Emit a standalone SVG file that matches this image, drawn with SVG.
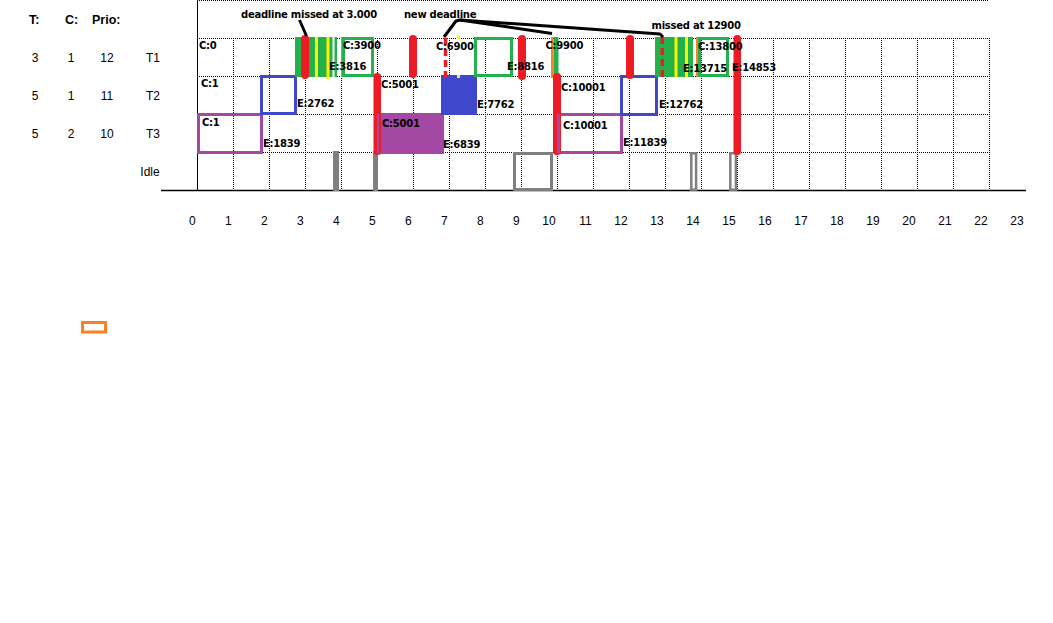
<svg xmlns="http://www.w3.org/2000/svg" width="1053" height="623" viewBox="0 0 1053 623">
<style>
.tbl{font-family:"Liberation Sans",Arial,sans-serif;font-size:12px;fill:#000}
.hdr{font-family:"Liberation Sans",Arial,sans-serif;font-size:12.5px;font-weight:bold;fill:#000}
.ax{font-family:"Liberation Sans",Arial,sans-serif;font-size:12px;fill:#000;text-anchor:end}
.lb{font-family:"DejaVu Sans",Verdana,sans-serif;font-size:10px;font-weight:bold;letter-spacing:-0.25px;fill:#000}
.grid{stroke:#000;stroke-width:1;stroke-dasharray:1 1;fill:none}
.red{fill:#ED1C24}
.grn{fill:#22B14C}
.ylw{fill:#FFF200}
.org{fill:#FF7F27}
.gout{fill:none;stroke:#22B14C;stroke-width:3}
.bout{fill:none;stroke:#3F48CC;stroke-width:3}
.pout{fill:none;stroke:#A349A4;stroke-width:3}
.gray{fill:#7F7F7F}
.grayout{fill:none;stroke:#7F7F7F;stroke-width:2.5}
.ann{fill:none;stroke:#000;stroke-width:3;stroke-linejoin:round}
.dash{stroke:#ED1C24;stroke-width:3.5;stroke-dasharray:7 4;fill:none}
</style>
<rect width="1053" height="623" fill="#fff"/>
<g id="table">
<text class="hdr" x="29" y="24">T:</text>
<text class="hdr" x="65" y="24">C:</text>
<text class="hdr" x="92" y="24">Prio:</text>
<text class="tbl" x="35" y="62" text-anchor="middle">3</text>
<text class="tbl" x="71" y="62" text-anchor="middle">1</text>
<text class="tbl" x="107" y="62" text-anchor="middle">12</text>
<text class="tbl" x="153" y="62" text-anchor="middle">T1</text>
<text class="tbl" x="35" y="100" text-anchor="middle">5</text>
<text class="tbl" x="71" y="100" text-anchor="middle">1</text>
<text class="tbl" x="107" y="100" text-anchor="middle">11</text>
<text class="tbl" x="153" y="100" text-anchor="middle">T2</text>
<text class="tbl" x="35" y="138" text-anchor="middle">5</text>
<text class="tbl" x="71" y="138" text-anchor="middle">2</text>
<text class="tbl" x="107" y="138" text-anchor="middle">10</text>
<text class="tbl" x="153" y="138" text-anchor="middle">T3</text>
<text class="tbl" x="150" y="176" text-anchor="middle">Idle</text>
</g>
<g id="grid">
<path class="grid" d="M197 0.5H989M197 38.5H989M197 76.5H989M197 114.5H989M197 152.5H989"/>
<path class="grid" d="M233.5 38V190M269.5 38V190M305.5 38V190M341.5 38V190M377.5 38V190M413.5 38V190M449.5 38V190M485.5 38V190M521.5 38V190M557.5 38V190M593.5 38V190M629.5 38V190M665.5 38V190M701.5 38V190M737.5 38V190M773.5 38V190M809.5 38V190M845.5 38V190M881.5 38V190M917.5 38V190M953.5 38V190M989.5 38V190"/>
<line x1="197.5" y1="0" x2="197.5" y2="190" stroke="#000" stroke-width="1"/>
<line x1="161" y1="190.5" x2="1026" y2="190.5" stroke="#000" stroke-width="1.6"/>
</g>
<g id="axis-labels">
<text class="ax" x="195.7" y="225">0</text>
<text class="ax" x="231.7" y="225">1</text>
<text class="ax" x="267.7" y="225">2</text>
<text class="ax" x="303.7" y="225">3</text>
<text class="ax" x="339.7" y="225">4</text>
<text class="ax" x="375.7" y="225">5</text>
<text class="ax" x="411.7" y="225">6</text>
<text class="ax" x="447.7" y="225">7</text>
<text class="ax" x="483.7" y="225">8</text>
<text class="ax" x="519.7" y="225">9</text>
<text class="ax" x="555.7" y="225">10</text>
<text class="ax" x="591.7" y="225">11</text>
<text class="ax" x="627.7" y="225">12</text>
<text class="ax" x="663.7" y="225">13</text>
<text class="ax" x="699.7" y="225">14</text>
<text class="ax" x="735.7" y="225">15</text>
<text class="ax" x="771.7" y="225">16</text>
<text class="ax" x="807.7" y="225">17</text>
<text class="ax" x="843.7" y="225">18</text>
<text class="ax" x="879.7" y="225">19</text>
<text class="ax" x="915.7" y="225">20</text>
<text class="ax" x="951.7" y="225">21</text>
<text class="ax" x="987.7" y="225">22</text>
<text class="ax" x="1023.7" y="225">23</text>
</g>
<g id="T3">
<rect class="pout" x="198.5" y="114.5" width="63" height="38"/>
<rect x="375" y="113" width="69" height="41" fill="#A349A4"/>
<rect class="pout" x="557.5" y="114.5" width="64" height="38"/>
</g>
<g id="T2">
<rect class="bout" x="261.5" y="76.5" width="34" height="37"/>
<rect x="441" y="75" width="36" height="40" fill="#3F48CC"/>
<rect class="bout" x="621.5" y="76.5" width="35" height="38"/>
<rect class="ylw" x="457" y="75" width="3" height="3"/>
</g>
<g id="T1">
<rect class="grn" x="295" y="37" width="42" height="40"/>
<rect class="ylw" x="315" y="37" width="3" height="40"/>
<rect class="ylw" x="326.5" y="37" width="3" height="42"/>
<rect x="332.5" y="37" width="2" height="40" fill="#fff"/>
<rect class="org" x="341" y="37" width="2.5" height="40"/>
<rect class="gout" x="343.5" y="38.5" width="29" height="37"/>
<rect class="gout" x="475.5" y="38.5" width="36" height="37"/>
<rect class="org" x="551" y="37" width="2.5" height="41"/>
<rect class="grn" x="553.5" y="37" width="5" height="41"/>
<rect class="grn" x="655" y="37" width="38" height="40"/>
<rect class="ylw" x="674.5" y="37" width="3" height="40"/>
<rect class="ylw" x="685" y="37" width="3" height="40"/>
<rect class="org" x="696" y="37" width="2.5" height="40"/>
<rect class="gout" x="699.5" y="38.5" width="28" height="37"/>
<rect class="ylw" x="457" y="36" width="3" height="3"/>
</g>
<g id="Idle">
<rect class="gray" x="333" y="151" width="6" height="40"/>
<rect class="gray" x="373" y="151" width="5" height="40"/>
<rect class="grayout" x="514.5" y="153.5" width="37" height="36" style="stroke-width:3"/>
<rect class="grayout" x="691.3" y="153.3" width="4.8" height="36.4"/>
<rect class="grayout" x="730.3" y="153.3" width="5.6" height="36.4"/>
</g>
<g id="deadlines">
<rect class="red" x="301" y="35" width="8" height="44" rx="4"/>
<rect class="red" x="409" y="35" width="8" height="43" rx="4"/>
<rect class="red" x="518" y="35" width="8" height="45" rx="4"/>
<rect class="red" x="626" y="35" width="8" height="44" rx="4"/>
<rect class="red" x="373.5" y="73" width="7.5" height="82" rx="3.5"/>
<rect class="red" x="553" y="73" width="8" height="82" rx="3.5"/>
<rect class="red" x="733.5" y="35" width="7.5" height="120" rx="3.5"/>
<line class="dash" x1="445.5" y1="38" x2="445.5" y2="77"/>
<line class="dash" x1="662.3" y1="37" x2="662.3" y2="77"/>
</g>
<g id="overlays">
<line x1="378" y1="114" x2="378" y2="153" stroke="#A349A4" stroke-width="2"/>
<line x1="558.5" y1="114" x2="558.5" y2="153" stroke="#A349A4" stroke-width="3"/>
</g>
<g id="connectors">
<line class="ann" x1="299.5" y1="20" x2="306.5" y2="36"/>
<polyline class="ann" points="444,37 456,21 460,20 552,33.5"/>
<polyline class="ann" points="460,20 660,34 663,37"/>
</g>
<g id="labels">
<text class="lb" x="241" y="18">deadline missed at 3.000</text>
<text class="lb" x="404" y="18">new deadline</text>
<text class="lb" x="651.5" y="29">missed at 12900</text>
<text class="lb" x="199" y="49">C:0</text>
<text class="lb" x="343" y="49">C:3900</text>
<text class="lb" x="329" y="70">E:3816</text>
<text class="lb" x="436" y="50">C:6900</text>
<text class="lb" x="507" y="70">E:8816</text>
<text class="lb" x="545.5" y="49">C:9900</text>
<text class="lb" x="698" y="50">C:13800</text>
<text class="lb" x="683" y="71.5">E:13715</text>
<text class="lb" x="732" y="71">E:14853</text>
<text class="lb" x="201" y="87">C:1</text>
<text class="lb" x="297" y="107">E:2762</text>
<text class="lb" x="381" y="88">C:5001</text>
<text class="lb" x="477" y="108">E:7762</text>
<text class="lb" x="561" y="90.5">C:10001</text>
<text class="lb" x="659" y="108">E:12762</text>
<text class="lb" x="202" y="126">C:1</text>
<text class="lb" x="263" y="146.5">E:1839</text>
<text class="lb" x="382" y="127">C:5001</text>
<text class="lb" x="443" y="147.5">E:6839</text>
<text class="lb" x="563" y="129">C:10001</text>
<text class="lb" x="623" y="145.5">E:11839</text>
</g>
<g id="legend">
<rect x="82.5" y="322.5" width="23" height="9.5" fill="none" stroke="#FF7F27" stroke-width="3"/>
</g>
</svg>
